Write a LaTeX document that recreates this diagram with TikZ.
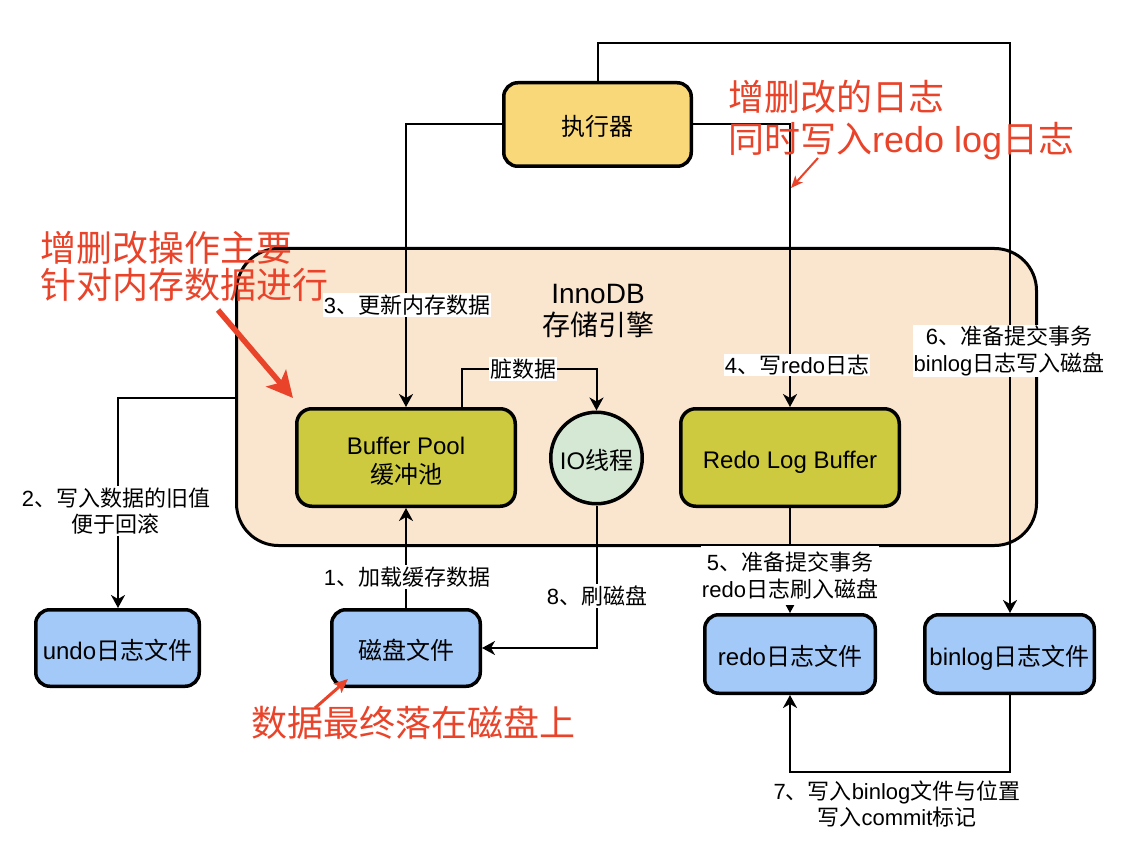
\documentclass[tikz,border=0pt]{standalone}
\usepackage{fontspec}
\setmainfont{Liberation Sans}
\newfontfamily\cjkf{Noto Sans CJK SC}
\newcommand\zh[1]{{\cjkf #1}}
\usetikzlibrary{arrows.meta}
\definecolor{execfill}{HTML}{F9D87A}
\definecolor{innofill}{HTML}{FAE5CF}
\definecolor{bpfill}{HTML}{CDCA40}
\definecolor{iofill}{HTML}{D5E8D4}
\definecolor{filefill}{HTML}{A3C9F8}
\definecolor{redc}{HTML}{E9432A}
\tikzset{
  box/.style={draw, line width=3.5pt, rounded corners=14pt, align=center, inner sep=0pt,
    font=\fontsize{24}{28.8}\selectfont, text height=22pt, text depth=0pt},
  conn/.style={line width=2pt, -{Stealth[length=13pt,width=14pt,inset=4pt]}},
  lbl/.style={fill=white, inner xsep=1pt, inner ysep=1.5pt, align=center,
    font=\fontsize{22}{26.4}\selectfont},
  redtxt/.style={text=redc, align=left, inner sep=0pt, anchor=west},
}
\begin{document}
\begin{tikzpicture}[x=1pt,y=-1pt]
\useasboundingbox (0,0) rectangle (1130,842);
% container
\node[draw, line width=3pt, fill=innofill, rounded corners=42pt, minimum width=800pt,
  minimum height=297pt, inner sep=0pt] (inno) at (636.5,397) {};
\node[align=center, inner sep=0pt, font=\fontsize{28}{32}\selectfont] (innolbl) at (598,311) {InnoDB\\\zh{存储引擎}};
% nodes
\node[box, fill=execfill, minimum width=187.5pt, minimum height=83.5pt] (exec) at (597.5,124.5) {\zh{执行器}};
\node[box, fill=bpfill, rounded corners=15pt, minimum width=218.5pt, minimum height=97.5pt, text height=51pt] (bp) at (406,457.5) {Buffer Pool\\\zh{缓冲池}};
\node[box, circle, fill=iofill, minimum size=91.5pt] (io) at (596.5,458) {IO\zh{线程}};
\node[box, fill=bpfill, rounded corners=15pt, minimum width=218.5pt, minimum height=97.5pt] (rlb) at (790,457.5) {Redo Log Buffer};
\node[box, fill=filefill, minimum width=163.5pt, minimum height=76.5pt] (undo) at (117.5,648) {undo\zh{日志文件}};
\node[box, fill=filefill, minimum width=148.5pt, minimum height=76.5pt] (disk) at (406,648) {\zh{磁盘文件}};
\node[box, fill=filefill, minimum width=170.5pt, minimum height=78.5pt] (redo) at (790,654) {redo\zh{日志文件}};
\node[box, fill=filefill, minimum width=169.5pt, minimum height=78.5pt] (binlog) at (1009.5,654) {binlog\zh{日志文件}};
% connectors
\coordinate (t6) at (1010,43);
\draw[conn] (exec.north) |- (t6) -- (t6 |- binlog.north);
\draw[conn] (exec.west) -| (bp.north);
\draw[conn] (exec.east) -| (rlb.north);
\draw[conn] ([xshift=56pt]bp.north) -- ++(0,-38) -| (io.north);
\coordinate (c2) at (118,398);
\draw[conn] (inno.west |- c2) -- (c2) -- (c2 |- undo.north);
\draw[conn] (disk.north) -- (bp.south);
\draw[conn] (io.south) |- (disk.east);
\draw[conn] (rlb.south) -- (redo.north);
\draw[conn] (binlog.south) -- ++(0,77) -| (redo.south);
% labels
\node[lbl] (l3) at (407,305) {3\zh{、更新内存数据}};
\node[lbl] (ld) at (523,369) {\zh{脏数据}};
\node[lbl] (l4) at (797,365) {4\zh{、写}redo\zh{日志}};
\node[lbl] (l6) at (1009,351) {6\zh{、准备提交事务}\\binlog\zh{日志写入磁盘}};
\node[lbl] (l2) at (116,511) {2\zh{、写入数据的旧值}\\\zh{便于回滚}};
\node[lbl] (l1) at (407,577) {1\zh{、加载缓存数据}};
\node[lbl] (l8) at (597,596) {8\zh{、刷磁盘}};
\node[lbl, inner ysep=6pt] (l5) at (790,575.5) {5\zh{、准备提交事务}\\redo\zh{日志刷入磁盘}};
\node[lbl] (l7) at (897,804) {7\zh{、写入}binlog\zh{文件与位置}\\\zh{写入}commit\zh{标记}};
% red annotations
\node[redtxt, font=\fontsize{36}{42}\selectfont] (r1) at (728,120) {\zh{增删改的日志}\\\zh{同时写入}redo log\zh{日志}};
\coordinate (r1a) at (818,158);
\coordinate (r1b) at (791,188);
\draw[redc, line width=2pt, -{Stealth[length=12pt,width=10pt,inset=3pt]}] (r1a) -- (r1b);
\node[redtxt, font=\fontsize{36}{37}\selectfont] (r2) at (40,266) {\zh{增删改操作主要}\\\zh{针对内存数据进行}};
\coordinate (r2a) at (218,310);
\coordinate (r2b) at (293,398);
\draw[redc, line width=5.5pt, -{Stealth[length=26pt,width=26pt,inset=6pt]}] (r2a) -- (r2b);
\node[redtxt, font=\fontsize{36}{42}\selectfont] (r3) at (251,723) {\zh{数据最终落在磁盘上}};
\coordinate (r3a) at (315,708);
\coordinate (r3b) at (348,679);
\draw[redc, line width=3pt, -{Stealth[length=14pt,width=12pt,inset=3pt]}] (r3a) -- (r3b);
\end{tikzpicture}
\end{document}
